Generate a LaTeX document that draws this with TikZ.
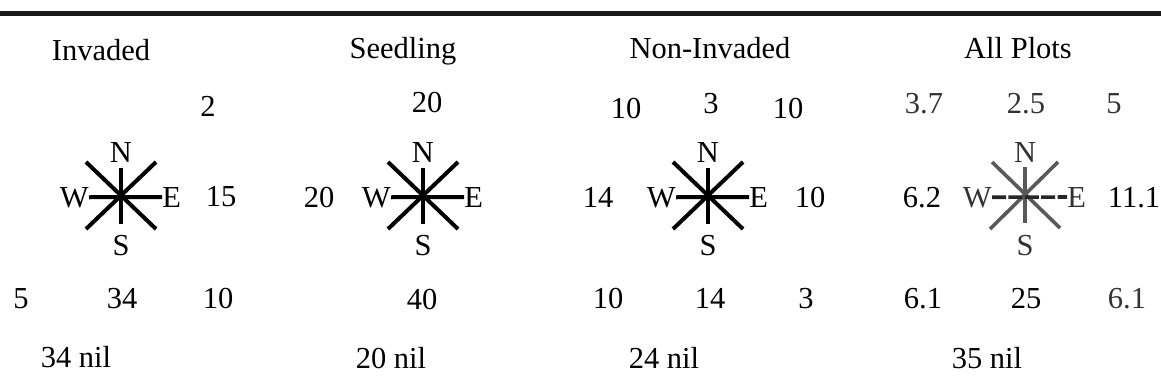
\documentclass[tikz,border=0pt]{standalone}
\usepackage{fontspec}
\setmainfont{Liberation Serif}

\begin{document}
\begin{tikzpicture}[x=0.5pt, y=-0.5pt,
    txt/.style={anchor=base, inner sep=0pt, font=\fontsize{15.25}{18}\selectfont},
    arm/.style={line width=2pt},
    greyarm/.style={line width=1.8pt, black!65},
    greytxt/.style={txt, black!80}]
    \useasboundingbox (0,0) rectangle (1161,387);
    % rule under the caption
    \draw[line width=2.5pt, black!90] (0,13) -- (1161,13);
    % column heads
    \node[txt] (hinv) at (101,60) {Invaded};
    \node[txt] (hseed) at (403,58) {Seedling};
    \node[txt] (hnon) at (710,58) {Non-Invaded};
    \node[txt] (hall) at (1018,58) {All Plots};
    % compasses
    \foreach \cx/\id in {121/inv, 423/seed, 708/non} {
      \begin{scope}[shift={(\cx,195)}]
        \node[txt] (\id-n) at (0,-33) {N};
        \node[txt] (\id-s) at (0,60) {S};
        \node[txt, anchor=base east] (\id-w) at (-32,12) {W};
        \node[txt, anchor=base west] (\id-e) at (41,12) {E};
        \draw[arm] (-35,-33) -- (35,34);
        \draw[arm] (35,-33) -- (-35,34);
        \draw[arm] (0,-27) -- (0,29);
        \draw[arm] (\id-w.east) -- (\id-e.west);
      \end{scope}
    }
    % all plots compass (fainter print)
    \begin{scope}[shift={(1025,195)}]
      \node[greytxt] (all-n) at (0,-33) {N};
      \node[greytxt] (all-s) at (0,60) {S};
      \node[greytxt, anchor=base east] (all-w) at (-33,12) {W};
      \node[greytxt, anchor=base west] (all-e) at (42,12) {E};
      \draw[greyarm] (-33,-33) -- (35,33);
      \draw[greyarm] (33,-33) -- (-35,34);
      \draw[greyarm] (0,-28) -- (0,28);
      \draw[greyarm, black!85, dash pattern=on 7pt off 1.2pt] (all-w.east) -- (all-e.west);
    \end{scope}
    % Invaded
    \node[txt] (inv-ne) at (208,116) {2};
    \node[txt] (inv-e) at (221,206) {15};
    \node[txt] (inv-sw) at (21,308) {5};
    \node[txt] (inv-so) at (122,308) {34};
    \node[txt] (inv-se) at (218,308) {10};
    \node[txt] (inv-nil) at (76,367) {34 nil};
    % Seedling
    \node[txt] (seed-no) at (427,112) {20};
    \node[txt] (seed-we) at (319,207) {20};
    \node[txt] (seed-so) at (422,309) {40};
    \node[txt] (seed-nil) at (391,368) {20 nil};
    % Non-Invaded
    \node[txt] (non-nw) at (626,118) {10};
    \node[txt] (non-no) at (711,113) {3};
    \node[txt] (non-ne) at (788,118) {10};
    \node[txt] (non-we) at (598,207) {14};
    \node[txt] (non-ea) at (810,207) {10};
    \node[txt] (non-sw) at (608,308) {10};
    \node[txt] (non-so) at (710,308) {14};
    \node[txt] (non-se) at (806,308) {3};
    \node[txt] (non-nil) at (664,368) {24 nil};
    % All Plots
    \node[greytxt] (all-nw) at (924,113) {3.7};
    \node[greytxt] (all-no) at (1026,113) {2.5};
    \node[greytxt] (all-ne) at (1114,113) {5};
    \node[txt] (all-we) at (922,207) {6.2};
    \node[txt] (all-ea) at (1134,207) {11.1};
    \node[txt] (all-sw) at (923,308) {6.1};
    \node[txt] (all-so) at (1026,308) {25};
    \node[greytxt] (all-se) at (1127,308) {6.1};
    \node[txt] (all-nil) at (987,368) {35 nil};
\end{tikzpicture}
\end{document}
